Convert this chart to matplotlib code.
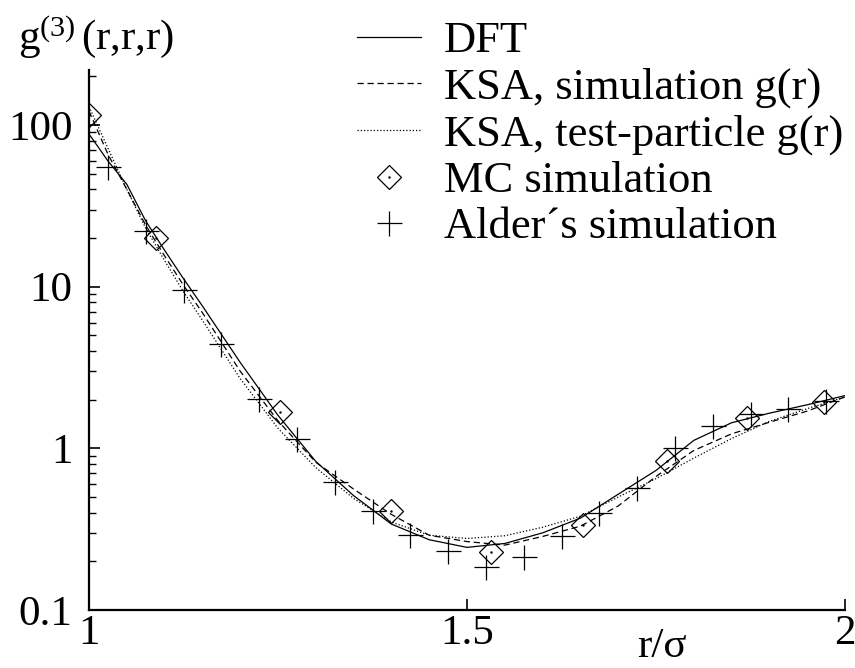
import numpy as np
import matplotlib
matplotlib.use('Agg')
import matplotlib.pyplot as plt
from matplotlib.legend_handler import HandlerTuple
from matplotlib.ticker import FixedLocator, LogLocator, NullLocator, NullFormatter

# ---------------- data ----------------
curve_x = [1.0, 1.025, 1.05, 1.075, 1.1, 1.125, 1.15, 1.2, 1.25, 1.3, 1.35, 1.4,
           1.45, 1.5, 1.55, 1.6, 1.65, 1.7, 1.75, 1.8, 1.85, 1.9, 1.95, 2.0]
dft = [88, 60, 43, 25.5, 16.8, 11.2, 7.6, 3.4, 1.6, 0.83, 0.51, 0.34,
       0.272, 0.244, 0.258, 0.30, 0.37, 0.52, 0.73, 1.12, 1.44, 1.65, 1.86, 2.12]
ksa_sim = [122, 66, 40, 24, 15.5, 10.2, 6.9, 3.0, 1.48, 0.82, 0.56, 0.39,
           0.29, 0.265, 0.252, 0.285, 0.33, 0.44, 0.67, 0.97, 1.23, 1.45, 1.70, 2.08]
ksa_tp = [130, 72, 40, 23, 14.5, 9.3, 6.2, 2.7, 1.33, 0.76, 0.49, 0.35,
          0.29, 0.277, 0.288, 0.325, 0.38, 0.50, 0.65, 0.87, 1.15, 1.47, 1.76, 2.08]

mc_x = [1.0, 1.089, 1.253, 1.400, 1.532, 1.654, 1.765, 1.871, 1.972]
mc_y = [115, 20.1, 1.67, 0.41, 0.229, 0.335, 0.84, 1.54, 1.93]

alder_x = [1.025, 1.075, 1.125, 1.175, 1.225, 1.275, 1.325, 1.375, 1.425, 1.475,
           1.525, 1.575, 1.625, 1.675, 1.725, 1.775, 1.825, 1.875, 1.925, 1.975]
alder_y = [55.3, 22.1, 9.58, 4.43, 2.01, 1.14, 0.62, 0.408, 0.292, 0.232,
           0.185, 0.213, 0.288, 0.397, 0.572, 1.0, 1.37, 1.62, 1.76, 1.96]

y_ticks = [0.1, 1, 10, 100]
y_ticklabels = ['0.1', '1', '10', '100']
x_ticks = [1, 1.5, 2]
x_ticklabels = ['1', '1.5', '2']

labels = ['DFT', 'KSA, simulation g(r)', 'KSA, test-particle g(r)',
          'MC simulation', 'Alder\u00b4s simulation']

# ---------------- style ----------------
plt.rcParams['font.family'] = ['Liberation Serif', 'DejaVu Serif']
plt.rcParams['mathtext.fontset'] = 'custom'
plt.rcParams['mathtext.rm'] = 'Liberation Serif'
plt.rcParams['mathtext.it'] = 'Liberation Serif:italic'

W, H = 855, 668
fig = plt.figure(figsize=(W / 100, H / 100), dpi=100)
ax = fig.add_axes([89 / W, 1 - 610 / H, (845 - 89) / W, (610 - 70) / H])

lw = 0.9
l1, = ax.plot(curve_x, dft, color='black', lw=lw, ls='-')
l2, = ax.plot(curve_x, ksa_sim, color='black', lw=lw, ls=(0, (5, 3)))
l3, = ax.plot(curve_x, ksa_tp, color='black', lw=lw, ls=(0, (1, 1.6)))
m1, = ax.plot(mc_x, mc_y, ls='none', marker='D', ms=12.5, mfc='none',
              mec='black', mew=0.9)
m1d, = ax.plot(mc_x, mc_y, ls='none', marker='.', ms=1.5, color='black')
m2, = ax.plot(alder_x, alder_y, ls='none', marker='+', ms=18, color='black',
              mew=0.9)

ax.set_yscale('log')
ax.set_xlim(1, 2)
ax.set_ylim(0.1, 219)
for s in ['top', 'right']:
    ax.spines[s].set_visible(False)
for s in ['left', 'bottom']:
    ax.spines[s].set_linewidth(1.6)

ax.yaxis.set_major_locator(FixedLocator(y_ticks))
ax.set_yticklabels(y_ticklabels)
ax.yaxis.set_minor_locator(LogLocator(base=10, subs=np.arange(2, 10)))
ax.yaxis.set_minor_formatter(NullFormatter())
ax.xaxis.set_major_locator(FixedLocator(x_ticks))
ax.set_xticklabels(x_ticklabels)
ax.xaxis.set_minor_locator(NullLocator())

ax.tick_params(axis='y', which='major', direction='in', length=8, width=1.2,
               labelsize=31, pad=12)
ax.tick_params(axis='y', which='minor', direction='in', length=5, width=1.0)
ax.tick_params(axis='x', which='major', direction='in', length=8, width=1.2,
               labelsize=31, pad=3)

fig.text(18 / W, 1 - 49 / H, r'$\mathrm{g}^{(3)}\,\mathrm{(r{,}r{,}r)}$',
         fontsize=31, ha='left', va='baseline')
fig.text(662 / W, 1 - 666 / H, 'r/\u03c3', fontsize=31, ha='center',
         va='bottom')

leg = fig.legend([l1, l2, l3, (m1, m1d), m2], labels,
                 loc='upper left', bbox_to_anchor=(357 / W, 1 - 21 / H),
                 frameon=False, fontsize=32, handlelength=1.44,
                 handletextpad=0.52, labelspacing=0.14, borderpad=0,
                 borderaxespad=0,
                 handler_map={tuple: HandlerTuple(ndivide=1, pad=0)})

fig.savefig('out.png', dpi=100)
